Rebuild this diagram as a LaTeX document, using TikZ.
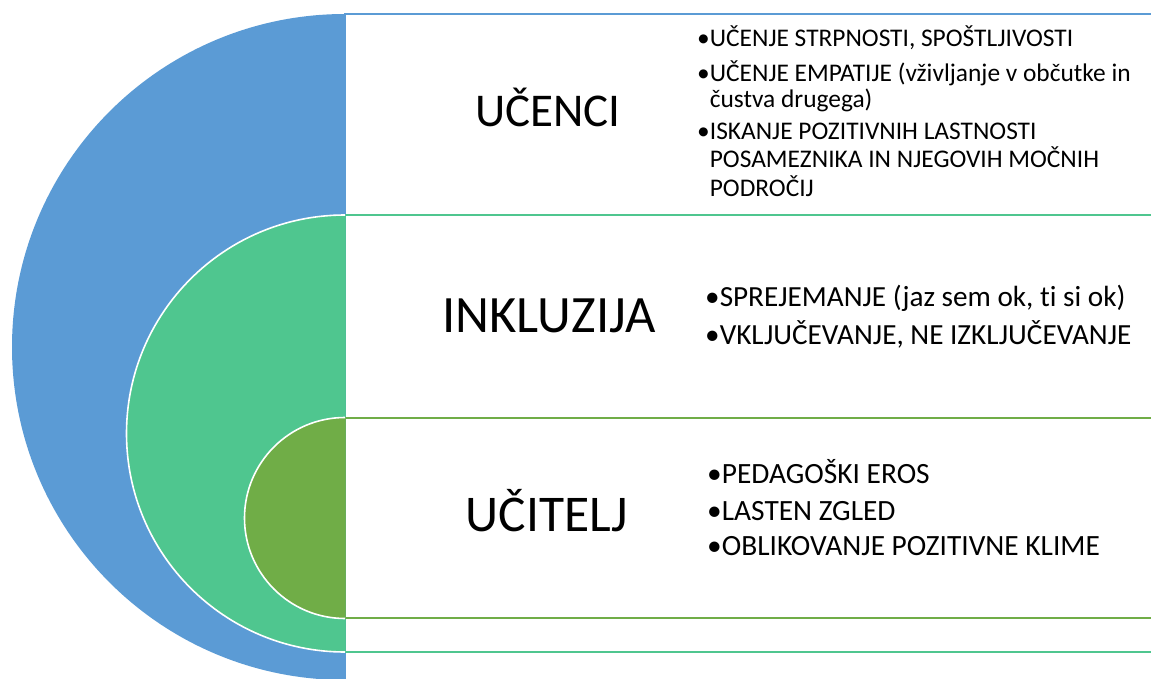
\documentclass[tikz,border=0pt]{standalone}
\usepackage{fontspec}
\setmainfont{Carlito}[Ligatures=NoCommon]
\definecolor{cblue}{HTML}{5B9BD5}
\definecolor{cgreen}{HTML}{4FC68F}
\definecolor{colive}{HTML}{70AD47}
\begin{document}
\begin{tikzpicture}[x=1pt,y=-1pt,
  rowbox/.style={line width=2pt, fill=white},
  arcedge/.style={white, line width=1.6pt},
  title/.style={anchor=base, inner sep=0pt, text=black},
  itemA/.style={anchor=base west, inner sep=0pt, font=\fontsize{25.4}{28}\selectfont},
  itemB/.style={anchor=base west, inner sep=0pt, font=\fontsize{29.2}{32}\selectfont},
  itemC/.style={anchor=base west, inner sep=0pt, font=\fontsize{29.4}{32}\selectfont}]
\useasboundingbox (0,0) rectangle (1151,679);
\clip (0,0) rectangle (1151,679);
% row rectangles
\draw[rowbox, draw=cblue] (345,14.5) rectangle (1170,700);
\draw[rowbox, draw=cgreen] (345,215) rectangle (1170,652);
\draw[rowbox, draw=colive] (345,418) rectangle (1170,618);
% half discs
\fill[cblue] (345,14) arc[start angle=270, end angle=90, radius=333] -- cycle;
\fill[cgreen] (345,215) arc[start angle=270, end angle=90, radius=218.5] -- cycle;
\draw[arcedge] (345,215) arc[start angle=270, end angle=90, radius=218.5];
\fill[colive] (345,417.5) arc[start angle=270, end angle=90, radius=100.5] -- cycle;
\draw[arcedge] (345,417.5) arc[start angle=270, end angle=90, radius=100.5];
% titles
\node[title, font=\fontsize{47}{50}\selectfont] (t1) at (548,127) {UČENCI};
\node[title, font=\fontsize{52.5}{55}\selectfont] (t2) at (549,332) {INKLUZIJA};
\node[title, font=\fontsize{51.5}{55}\selectfont] (t3) at (547,531) {UČITELJ};
% row 1 items
\node[itemA] (a1) at (697,47) {•UČENJE STRPNOSTI, SPOŠTLJIVOSTI};
\node[itemA] (a2) at (697,82) {•UČENJE EMPATIJE (vživljanje v občutke in};
\node[itemA] (a3) at (697,108) {\phantom{•}čustva drugega)};
\node[itemA] (a4) at (697,140) {•ISKANJE POZITIVNIH LASTNOSTI};
\node[itemA] (a5) at (697,168) {\phantom{•}POSAMEZNIKA IN NJEGOVIH MOČNIH};
\node[itemA] (a6) at (697,197) {\phantom{•}PODROČIJ};
% row 2 items
\node[itemB] (b1) at (705,306) {•SPREJEMANJE (jaz sem ok, ti si ok)};
\node[itemB] (b2) at (705,344) {•VKLJUČEVANJE, NE IZKLJUČEVANJE};
% row 3 items
\node[itemC] (c1) at (707,483) {•PEDAGOŠKI EROS};
\node[itemC] (c2) at (707,520) {•LASTEN ZGLED};
\node[itemC] (c3) at (707,555) {•OBLIKOVANJE POZITIVNE KLIME};
\end{tikzpicture}
\end{document}
